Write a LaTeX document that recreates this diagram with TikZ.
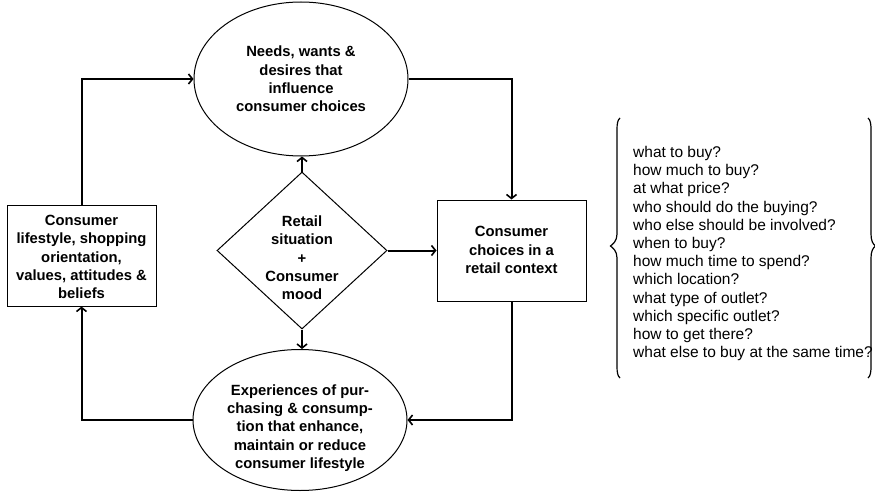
\documentclass[tikz,border=0pt]{standalone}
\usepackage{fontspec}
\setmainfont{Liberation Sans}
\usetikzlibrary{shapes.geometric,arrows.meta}
\begin{document}
\begin{tikzpicture}[x=1pt,y=-1pt,
  bold/.style={font=\fontsize{14.8}{18.3}\selectfont\bfseries, align=center, inner sep=0pt},
  shp/.style={draw, line width=1pt, inner sep=0pt},
  conn/.style={line width=2pt, -{Straight Barb[length=4pt,width=10pt,line width=1.6pt]}},
  qline/.style={font=\fontsize{15.5}{18}\selectfont, anchor=base west, inner sep=0pt},
  brace/.style={line width=1.2pt}]
\useasboundingbox (0,0) rectangle (875,492);
% shapes
\node[shp, ellipse, minimum width=214pt, minimum height=154pt] (needs) at (301,79) {};
\node[bold] (needst) at (301,79) {Needs, wants \&\\desires that\\influence\\consumer choices};
\node[shp, rectangle, minimum width=149pt, minimum height=101pt] (life) at (81.5,255.5) {};
\node[bold] (lifet) at (81.5,257) {Consumer\\lifestyle, shopping\\orientation,\\values, attitudes \&\\beliefs};
\node[shp, diamond, minimum width=170pt, minimum height=157pt] (sit) at (302,250.5) {};
\node[bold] (sitt) at (302,258) {Retail\\situation\\+\\Consumer\\mood};
\node[shp, rectangle, minimum width=149pt, minimum height=101pt] (choice) at (511.5,250.5) {};
\node[bold] (choicet) at (511.5,250) {Consumer\\choices in a\\retail context};
\node[shp, ellipse, minimum width=214pt, minimum height=141pt] (exp) at (300,420) {};
\node[bold] (expt) at (300,428) {Experiences of pur-\\chasing \& consump-\\tion that enhance,\\maintain or reduce\\consumer lifestyle};
% connectors
\draw[conn] (life.north) |- (needs.west);
\draw[conn] (needs.east) -| (choice.north);
\draw[conn] (sit.north) -- (sit.north |- needs.south);
\draw[conn] (sit.east) -- (choice.west);
\draw[conn] (sit.south) -- (sit.south |- exp.north);
\draw[conn] (choice.south) |- (exp.east);
\draw[conn] (exp.west) -| (life.south);
% braces
\draw[brace] (620,118) .. controls (617.5,120) and (617,124) .. (617,130) -- (617,234)
  .. controls (617,241) and (613,244) .. (610.5,246) .. controls (613,248) and (617,251) .. (617,258)
  -- (617,366) .. controls (617,372) and (617.5,376) .. (620,378);
\draw[brace] (868,118) .. controls (870.5,120) and (871,124) .. (871,130) -- (871,234)
  .. controls (871,241) and (873,244) .. (875.5,246) .. controls (873,248) and (871,251) .. (871,258)
  -- (871,366) .. controls (871,372) and (870.5,376) .. (868,378);
% question list
\foreach \t [count=\i] in {what to buy?, how much to buy?, at what price?, who should do the buying?,
  who else should be involved?, when to buy?, how much time to spend?, which location?,
  what type of outlet?, which specific outlet?, how to get there?, what else to buy at the same time?}
  \node[qline] (q\i) at (633, {157.5+18.2*(\i-1)}) {\t};
\end{tikzpicture}
\end{document}
